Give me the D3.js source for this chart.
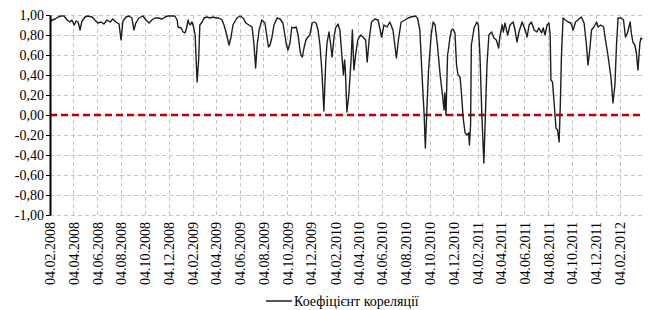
<!DOCTYPE html>
<html>
<head>
<meta charset="utf-8">
<script src="https://cdn.jsdelivr.net/npm/d3@7"></script>
<style>
    body { margin: 0; background: #fff; }
    svg { display: block; }
</style>
</head>
<body>
<div id="chart"></div>
<script>
const width = 659;
const height = 310;
const margin = { top: 15, right: 16, bottom: 95, left: 50 };
const fontFamily = "'Liberation Serif'";

// x axis labels (every two months)
const xTickLabels = [
    '04.02.2008', '04.04.2008', '04.06.2008', '04.08.2008', '04.10.2008', '04.12.2008',
    '04.02.2009', '04.04.2009', '04.06.2009', '04.08.2009', '04.10.2009', '04.12.2009',
    '04.02.2010', '04.04.2010', '04.06.2010', '04.08.2010', '04.10.2010', '04.12.2010',
    '04.02.2011', '04.04.2011', '04.06.2011', '04.08.2011', '04.10.2011', '04.12.2011',
    '04.02.2012'
];
const yTicks = [-1, -0.8, -0.6, -0.4, -0.2, 0, 0.2, 0.4, 0.6, 0.8, 1];
const seriesName = 'Коефіцієнт кореляції';

// correlation coefficient
const dates = [
    '05.02.2008', '09.02.2008', '17.02.2008', '25.02.2008', '03.03.2008', '11.03.2008', '19.03.2008', '26.03.2008',
    '31.03.2008', '06.04.2008', '11.04.2008', '16.04.2008', '21.04.2008', '26.04.2008', '04.05.2008', '11.05.2008',
    '22.05.2008', '29.05.2008', '06.06.2008', '14.06.2008', '21.06.2008', '29.06.2008', '07.07.2008', '14.07.2008',
    '22.07.2008', '30.07.2008', '04.08.2008', '09.08.2008', '17.08.2008', '24.08.2008', '01.09.2008', '06.09.2008',
    '11.09.2008', '19.09.2008', '29.09.2008', '07.10.2008', '15.10.2008', '22.10.2008', '30.10.2008', '07.11.2008',
    '17.11.2008', '25.11.2008', '02.12.2008', '13.12.2008', '20.12.2008', '26.12.2008', '28.12.2008',
    '05.01.2009', '10.01.2009', '15.01.2009', '19.01.2009', '23.01.2009', '25.01.2009', '28.01.2009', '02.02.2009',
    '06.02.2009', '10.02.2009', '15.02.2009', '19.02.2009', '22.02.2009', '28.02.2009', '05.03.2009', '12.03.2009',
    '20.03.2009', '28.03.2009', '04.04.2009', '12.04.2009', '20.04.2009', '25.04.2009', '30.04.2009', '08.05.2009',
    '13.05.2009', '18.05.2009', '28.05.2009', '05.06.2009', '13.06.2009', '20.06.2009', '28.06.2009', '06.07.2009',
    '11.07.2009', '15.07.2009', '19.07.2009', '24.07.2009', '31.07.2009', '08.08.2009', '13.08.2009', '17.08.2009',
    '21.08.2009', '26.08.2009', '31.08.2009', '08.09.2009', '16.09.2009', '23.09.2009', '28.09.2009', '02.10.2009',
    '06.10.2009', '11.10.2009', '16.10.2009', '21.10.2009', '27.10.2009', '01.11.2009', '05.11.2009', '08.11.2009',
    '12.11.2009', '16.11.2009', '21.11.2009', '26.11.2009', '01.12.2009', '07.12.2009', '12.12.2009', '17.12.2009',
    '22.12.2009', '27.12.2009',
    '01.01.2010', '06.01.2010', '11.01.2010', '14.01.2010', '19.01.2010', '23.01.2010', '27.01.2010', '01.02.2010',
    '05.02.2010', '11.02.2010', '16.02.2010', '21.02.2010', '25.02.2010', '28.02.2010', '02.03.2010', '06.03.2010',
    '11.03.2010', '17.03.2010', '20.03.2010', '24.03.2010', '29.03.2010', '03.04.2010', '07.04.2010', '11.04.2010',
    '16.04.2010', '23.04.2010', '27.04.2010', '02.05.2010', '08.05.2010', '17.05.2010', '25.05.2010', '03.06.2010',
    '09.06.2010', '17.06.2010', '24.06.2010', '02.07.2010', '11.07.2010', '16.07.2010', '23.07.2010', '02.08.2010',
    '10.08.2010', '17.08.2010', '28.08.2010', '03.09.2010', '09.09.2010', '15.09.2010', '20.09.2010', '23.09.2010',
    '27.09.2010', '01.10.2010', '08.10.2010', '13.10.2010', '18.10.2010', '24.10.2010', '31.10.2010', '06.11.2010',
    '10.11.2010', '12.11.2010', '15.11.2010', '19.11.2010', '21.11.2010', '25.11.2010', '29.11.2010', '03.12.2010',
    '08.12.2010', '12.12.2010', '16.12.2010', '21.12.2010', '25.12.2010', '29.12.2010',
    '03.01.2011', '08.01.2011', '12.01.2011', '14.01.2011', '17.01.2011', '19.01.2011', '26.01.2011', '02.02.2011',
    '06.02.2011', '10.02.2011', '15.02.2011', '20.02.2011', '24.02.2011', '28.02.2011', '05.03.2011', '12.03.2011',
    '18.03.2011', '24.03.2011', '30.03.2011', '02.04.2011', '08.04.2011', '11.04.2011', '15.04.2011', '22.04.2011',
    '28.04.2011', '06.05.2011', '11.05.2011', '16.05.2011', '21.05.2011', '29.05.2011', '06.06.2011', '11.06.2011',
    '16.06.2011', '22.06.2011', '29.06.2011', '06.07.2011', '11.07.2011', '18.07.2011', '22.07.2011', '27.07.2011',
    '01.08.2011', '06.08.2011', '09.08.2011', '11.08.2011', '15.08.2011', '19.08.2011', '24.08.2011', '28.08.2011',
    '01.09.2011', '04.09.2011', '07.09.2011', '11.09.2011', '17.09.2011', '24.09.2011', '01.10.2011', '07.10.2011',
    '13.10.2011', '19.10.2011', '28.10.2011', '04.11.2011', '10.11.2011', '14.11.2011', '19.11.2011', '23.11.2011',
    '29.11.2011', '06.12.2011', '10.12.2011', '17.12.2011', '24.12.2011', '28.12.2011',
    '04.01.2012', '12.01.2012', '17.01.2012', '22.01.2012', '26.01.2012', '30.01.2012', '07.02.2012', '13.02.2012',
    '18.02.2012', '23.02.2012', '01.03.2012', '04.03.2012', '08.03.2012', '13.03.2012', '17.03.2012', '21.03.2012',
    '26.03.2012', '29.03.2012', '01.04.2012'
];
const values = [
    0.93, 0.95, 0.96, 0.98, 0.99, 0.99, 0.95, 0.93,
    0.95, 0.90, 0.94, 0.93, 0.85, 0.94, 0.98, 0.99,
    0.98, 0.95, 0.92, 0.93, 0.91, 0.95, 0.93, 0.96,
    0.93, 0.91, 0.75, 0.94, 0.98, 0.99, 0.97, 0.85,
    0.92, 0.97, 0.99, 0.95, 0.92, 0.95, 0.97, 0.97,
    0.96, 0.98, 0.99, 0.99, 0.99, 0.95, 0.88,
    0.87, 0.83, 0.82, 0.87, 0.95, 0.92, 0.90, 0.93,
    0.88, 0.80, 0.33, 0.55, 0.90, 0.93, 0.97, 0.98,
    0.97, 0.98, 0.97, 0.97, 0.95, 0.90, 0.83, 0.70,
    0.78, 0.90, 0.97, 0.99, 0.97, 0.92, 0.90, 0.88,
    0.70, 0.47, 0.70, 0.85, 0.95, 0.92, 0.78, 0.68,
    0.70, 0.78, 0.90, 0.97, 0.96, 0.92, 0.80, 0.70,
    0.65, 0.72, 0.88, 0.87, 0.88, 0.80, 0.67, 0.60,
    0.58, 0.67, 0.75, 0.78, 0.80, 0.92, 0.93, 0.92,
    0.85, 0.70,
    0.43, 0.04, 0.55, 0.72, 0.83, 0.72, 0.58, 0.78,
    0.87, 0.91, 0.85, 0.60, 0.40, 0.55, 0.45, 0.03,
    0.20, 0.57, 0.85, 0.45, 0.62, 0.75, 0.78, 0.80,
    0.78, 0.75, 0.53, 0.75, 0.93, 0.96, 0.95, 0.78,
    0.90, 0.88, 0.93, 0.85, 0.57, 0.75, 0.93, 0.95,
    0.97, 0.98, 0.99, 0.97, 0.85, 0.37, 0.00, -0.33,
    0.05, 0.43, 0.80, 0.93, 0.90, 0.70, 0.40, 0.20,
    0.05, 0.22, 0.00, 0.60, 0.65, 0.77, 0.85, 0.86,
    0.82, 0.50, 0.40, 0.38, 0.20, -0.03,
    -0.18, -0.20, -0.18, -0.30, -0.10, 0.70, 0.87, 0.93,
    0.90, 0.60, 0.00, -0.48, 0.00, 0.50, 0.80, 0.83,
    0.77, 0.75, 0.67, 0.78, 0.90, 0.83, 0.92, 0.80,
    0.90, 0.93, 0.85, 0.73, 0.83, 0.93, 0.85, 0.78,
    0.90, 0.93, 0.85, 0.83, 0.87, 0.82, 0.87, 0.80,
    0.90, 0.92, 0.80, 0.35, 0.33, 0.13, -0.13, -0.15,
    -0.27, 0.10, 0.60, 0.97, 0.95, 0.93, 0.92, 0.85,
    0.93, 0.95, 0.98, 0.92, 0.70, 0.50, 0.67, 0.85,
    0.88, 0.93, 0.88, 0.90, 0.88, 0.77,
    0.60, 0.37, 0.12, 0.30, 0.70, 0.97, 0.97, 0.95,
    0.78, 0.82, 0.93, 0.82, 0.73, 0.70, 0.62, 0.45,
    0.72, 0.77, 0.76
];

const parseDate = d3.timeParse('%d.%m.%Y');
const formatDate = d3.timeFormat('%d.%m.%Y');
const formatValue = v => d3.format('.2f')(v).replace('.', ',').replace('−', '-');

const data = dates.map((d, i) => ({ date: parseDate(d), value: values[i] }));
const xTicks = xTickLabels.map(parseDate);

const plotRight = width - margin.right;
const plotBottom = height - margin.bottom;

const x = d3.scaleTime()
    .domain([xTicks[0], xTicks[xTicks.length - 1]])
    .range([margin.left, 620]);

const y = d3.scaleLinear()
    .domain([-1, 1])
    .range([plotBottom, margin.top]);

const svg = d3.select('#chart').append('svg')
    .attr('width', width)
    .attr('height', height);

// dashed grid
const grid = svg.append('g')
    .attr('stroke', '#c4c4c4')
    .attr('stroke-width', 1)
    .attr('stroke-dasharray', '4,3');

grid.selectAll('line.h')
    .data(yTicks.filter(t => t !== 0))
    .join('line')
    .attr('class', 'h')
    .attr('x1', margin.left)
    .attr('x2', plotRight)
    .attr('y1', d => Math.round(y(d)) + 0.5)
    .attr('y2', d => Math.round(y(d)) + 0.5);

grid.selectAll('line.v')
    .data(xTicks.slice(1))
    .join('line')
    .attr('class', 'v')
    .attr('x1', d => Math.round(x(d)) + 0.5)
    .attr('x2', d => Math.round(x(d)) + 0.5)
    .attr('y1', margin.top)
    .attr('y2', plotBottom);

// zero line
svg.append('line')
    .attr('x1', margin.left)
    .attr('x2', plotRight)
    .attr('y1', y(0))
    .attr('y2', y(0))
    .attr('stroke', '#c00000')
    .attr('stroke-width', 2.5)
    .attr('stroke-dasharray', '7,4');

// the series
svg.append('path')
    .datum(data)
    .attr('fill', 'none')
    .attr('stroke', '#1e1e1e')
    .attr('stroke-width', 1.4)
    .attr('stroke-linejoin', 'round')
    .attr('d', d3.line()
        .x(d => x(d.date))
        .y(d => y(d.value)));

// y axis
svg.append('g')
    .attr('transform', `translate(${margin.left},0)`)
    .call(d3.axisLeft(y).tickValues(yTicks).tickSize(4).tickSizeOuter(0).tickFormat(formatValue))
    .call(g => g.select('.domain').attr('stroke', '#000').attr('stroke-width', 2))
    .call(g => g.selectAll('.tick line').attr('stroke', '#000'))
    .call(g => g.selectAll('.tick text')
        .style('font-family', fontFamily)
        .style('font-size', '14px')
        .attr('fill', '#000')
        .attr('x', -6));

// x labels, rotated
svg.append('g')
    .attr('transform', `translate(0,${plotBottom})`)
    .call(d3.axisBottom(x).tickValues(xTicks).tickSize(0).tickFormat(formatDate))
    .call(g => g.select('.domain').remove())
    .call(g => g.selectAll('.tick text')
        .style('font-family', fontFamily)
        .style('font-size', '14px')
        .attr('fill', '#000')
        .attr('transform', 'rotate(-90)')
        .attr('text-anchor', 'end')
        .attr('x', -7)
        .attr('y', 0)
        .attr('dy', '0.35em'));

// legend
const legend = svg.append('g')
    .attr('transform', `translate(266,${height - 9})`);
legend.append('line')
    .attr('x1', 0)
    .attr('x2', 26)
    .attr('stroke', '#1e1e1e')
    .attr('stroke-width', 1.5);
legend.append('text')
    .attr('x', 28)
    .attr('dy', '0.35em')
    .style('font-family', fontFamily)
    .style('font-size', '14px')
    .attr('fill', '#000')
    .text(seriesName);
</script>
</body>
</html>
